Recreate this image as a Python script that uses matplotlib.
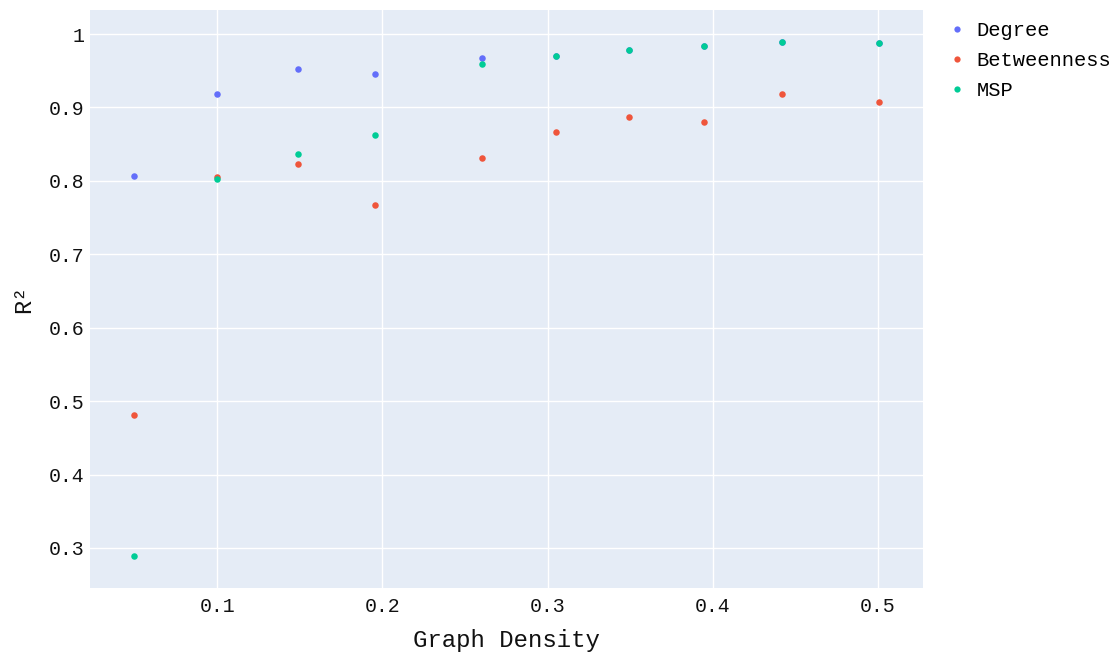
import matplotlib
matplotlib.use("Agg")
import matplotlib.pyplot as plt
from matplotlib.lines import Line2D

density = [0.05, 0.1, 0.149, 0.1956, 0.2604, 0.3052, 0.3494, 0.3948, 0.4418, 0.5003]
degree = [0.807, 0.9187, 0.953, 0.945, 0.967, 0.970, 0.9786, 0.983, 0.989, 0.9876]
betweenness = [0.481, 0.805, 0.823, 0.767, 0.8305, 0.867, 0.887, 0.8796, 0.9177, 0.9068]
msp = [0.2887, 0.802, 0.837, 0.862, 0.9595, 0.970, 0.9786, 0.983, 0.989, 0.9876]

series_names = ["Degree", "Betweenness", "MSP"]
series_colors = ["#636efa", "#EF553B", "#00cc96"]
xticks = [0.1, 0.2, 0.3, 0.4, 0.5]
xtick_labels = ["0.1", "0.2", "0.3", "0.4", "0.5"]
yticks = [0.3, 0.4, 0.5, 0.6, 0.7, 0.8, 0.9, 1.0]
ytick_labels = ["0.3", "0.4", "0.5", "0.6", "0.7", "0.8", "0.9", "1"]

plt.rcParams['font.family'] = ['Liberation Mono', 'DejaVu Sans Mono']

W, H = 1117, 654
fig = plt.figure(figsize=(W / 100, H / 100), dpi=100)
ax = fig.add_axes([90 / W, (H - 588) / H, (923 - 90) / W, (588 - 10) / H])
ax.set_facecolor("#E5ECF6")
for s in ax.spines.values():
    s.set_visible(False)

for name, vals, c in zip(series_names, [degree, betweenness, msp], series_colors):
    ax.scatter(density, vals, s=22, color=c, linewidths=0, zorder=3, label=name)

ax.set_xlim(0.0231, 0.5272)
ax.set_ylim(0.2455, 1.0327)
ax.set_xticks(xticks)
ax.set_xticklabels(xtick_labels)
ax.set_yticks(yticks)
ax.set_yticklabels(ytick_labels)
ax.grid(True, color="white", linewidth=1.0, zorder=0)
ax.set_axisbelow(True)
ax.tick_params(length=0, labelsize=14.3, colors="#111111", pad=6.5)
ax.tick_params(axis='y', pad=4)

ax.set_xlabel("Graph Density", fontsize=17.3, color="#111111", labelpad=9)
ax.set_ylabel("R²", fontsize=17, color="#111111", labelpad=10)

handles = [Line2D([0], [0], marker='o', linestyle='none', markersize=4.5,
                  markerfacecolor=c, markeredgewidth=0) for c in series_colors]
fig.legend(handles, series_names, loc='upper left', bbox_to_anchor=(945 / W, 1 - 21 / H),
           frameon=False, fontsize=14.7, handletextpad=0.35, labelspacing=0.55,
           handlelength=1.2, borderaxespad=0, borderpad=0)

fig.savefig("out.png", dpi=100, facecolor="white")
